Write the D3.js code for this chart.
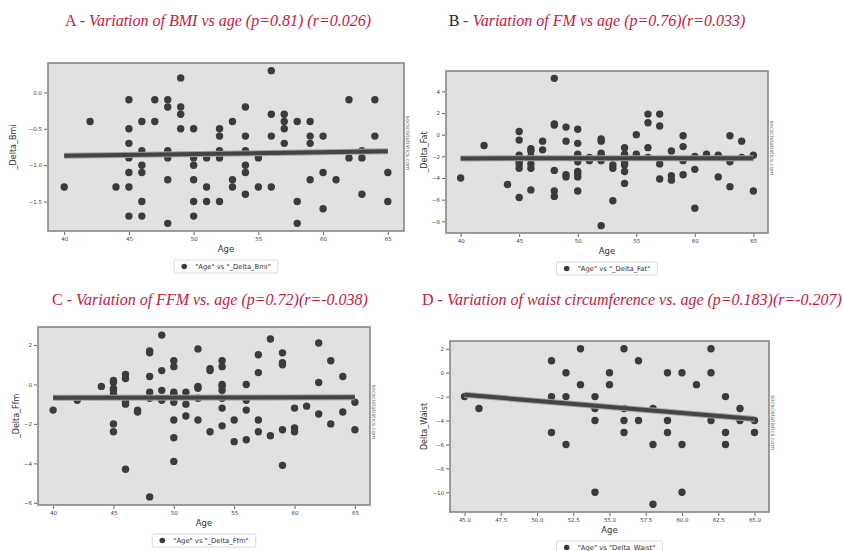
<!DOCTYPE html>
<html>
<head>
<meta charset="utf-8">
<script src="https://cdn.jsdelivr.net/npm/d3@7"></script>
<style>
  body { margin: 0; background: #fff; }
  svg { display: block; }
</style>
</head>
<body>
<div id="chart-area"></div>
<script>
// [age, delta]
var bmiPoints = [
    [40, -1.3], [42, -0.4], [44, -1.3],
    [45, -0.1], [45, -0.5], [45, -0.7], [45, -0.9], [45, -1.1], [45, -1.3], [45, -1.7],
    [46, -0.4], [46, -0.8], [46, -1.0], [46, -1.1], [46, -1.5], [46, -1.7],
    [47, -0.1], [47, -0.4],
    [48, -0.1], [48, -0.2], [48, -0.8], [48, -0.9], [48, -1.2], [48, -1.8],
    [49, 0.2], [49, -0.2], [49, -0.3], [49, -0.5],
    [50, -0.5], [50, -0.9], [50, -1.0], [50, -1.2], [50, -1.5], [50, -1.7],
    [51, -0.9], [51, -1.3], [51, -1.5],
    [52, -0.5], [52, -0.6], [52, -0.8], [52, -0.9], [52, -1.5],
    [53, -0.4], [53, -1.2], [53, -1.3],
    [54, -0.2], [54, -0.6], [54, -0.8], [54, -1.0], [54, -1.1], [54, -1.4],
    [55, -0.9], [55, -1.3],
    [56, 0.3], [56, -0.3], [56, -0.6], [56, -1.3],
    [57, -0.3], [57, -0.4], [57, -0.5], [57, -0.7],
    [58, -0.4], [58, -1.5], [58, -1.8],
    [59, -0.4], [59, -0.6], [59, -0.7], [59, -1.2],
    [60, -0.6], [60, -1.1], [60, -1.6],
    [61, -1.2], [62, -0.1], [62, -0.9],
    [63, -0.8], [63, -0.9], [63, -1.4],
    [64, -0.1], [64, -0.6], [65, -1.1], [65, -1.5]
];

var fatPoints = [
    [40, -4.0], [42, -1.0], [44, -4.6],
    [45, 0.3], [45, -0.5], [45, -1.9], [45, -2.1], [45, -2.5], [45, -2.7], [45, -3.1], [45, -5.8],
    [46, -1.3], [46, -1.5], [46, -2.0], [46, -2.7], [46, -3.1], [46, -5.1],
    [47, -0.6], [47, -1.4],
    [48, 5.2], [48, 1.0], [48, 0.9], [48, -3.3], [48, -5.2], [48, -5.7],
    [49, 0.7], [49, -0.6], [49, -3.7], [49, -3.9],
    [50, 0.5], [50, -0.8], [50, -1.8], [50, -2.5], [50, -3.4], [50, -3.6], [50, -3.9], [50, -5.2],
    [51, -2.1], [51, -2.4],
    [52, -0.4], [52, -0.6], [52, -1.7], [52, -1.9], [52, -2.4], [52, -8.4],
    [53, -2.8], [53, -3.1], [53, -6.1],
    [54, -1.2], [54, -1.8], [54, -2.0], [54, -2.3], [54, -2.6], [54, -2.8], [54, -3.4], [54, -4.5],
    [55, 0.0], [55, -1.8],
    [56, 1.9], [56, 1.1], [56, -1.2], [56, -2.1],
    [57, 1.9], [57, 0.8], [57, -2.7], [57, -4.1],
    [58, -1.5], [58, -3.8], [58, -4.2],
    [59, -0.1], [59, -1.1], [59, -2.4], [59, -3.7],
    [60, -2.0], [60, -3.2], [60, -6.8],
    [61, -1.8], [62, -1.9], [62, -2.0], [62, -3.9],
    [63, -0.1], [63, -2.5], [63, -4.8],
    [64, -0.6], [64, -2.1], [65, -1.9], [65, -5.2]
];

var ffmPoints = [
    [40, -1.3], [42, -0.8], [44, -0.1],
    [45, 0.2], [45, 0.1], [45, -0.2], [45, -0.3], [45, -0.5], [45, -2.0], [45, -2.4],
    [46, 0.5], [46, 0.3], [46, -0.9], [46, -1.0], [46, -4.3],
    [47, -1.3], [47, -1.4],
    [48, 1.7], [48, 1.6], [48, 0.4], [48, -0.4], [48, -0.7], [48, -5.7],
    [49, 2.5], [49, 0.7], [49, -0.3], [49, -0.8],
    [50, 1.2], [50, 0.9], [50, -0.4], [50, -0.5], [50, -0.6], [50, -0.9], [50, -1.8], [50, -2.7], [50, -3.9],
    [51, -0.4], [51, -1.0], [51, -1.6],
    [52, 1.8], [52, -0.1], [52, -0.2], [52, -0.7], [52, -1.8],
    [53, 0.8], [53, 0.7], [53, -2.4],
    [54, 1.2], [54, 0.9], [54, 0.0], [54, -0.1], [54, -0.3], [54, -0.7], [54, -1.2], [54, -2.1],
    [55, -1.8], [55, -2.9],
    [56, 0.0], [56, -0.8], [56, -1.3], [56, -2.8],
    [57, 1.5], [57, 0.6], [57, -1.8], [57, -2.4],
    [58, 2.3], [58, -2.6],
    [59, 1.6], [59, 1.1], [59, 1.0], [59, -2.3], [59, -4.1],
    [60, -1.2], [60, -2.2], [60, -2.4],
    [61, -1.1], [62, 2.1], [62, 0.1], [62, -1.5],
    [63, 1.2], [63, -2.0], [64, 0.4], [64, -1.4],
    [65, -0.9], [65, -2.3]
];

var waistPoints = [
    [45, -2], [46, -3],
    [51, 1], [51, -2], [51, -5],
    [52, 0], [52, -2], [52, -6],
    [53, 2], [53, -1],
    [54, -2], [54, -3], [54, -4], [54, -10],
    [55, 0], [55, -1],
    [56, 2], [56, -3], [56, -4], [56, -5],
    [57, 1], [57, -4],
    [58, -3], [58, -6], [58, -11],
    [59, 0], [59, -4], [59, -5],
    [60, 0], [60, -6], [60, -10],
    [61, -1],
    [62, 2], [62, 0], [62, -4],
    [63, -2], [63, -5], [63, -6],
    [64, -3], [64, -4],
    [65, -4], [65, -5]
];

// fitted line ends
var fitAges = [40, 65];
var bmiFit = [-0.87, -0.81];
var fatFit = [-2.19, -2.17];
var ffmFit = [-0.67, -0.65];
var waistFitAges = [45, 65];
var waistFit = [-1.85, -3.87];

var ageTicks = [40, 45, 50, 55, 60, 65];
var waistAgeTicks = [45, 47.5, 50, 52.5, 55, 57.5, 60, 62.5, 65];
var bmiTicks = [0, -0.5, -1, -1.5];
var fatTicks = [4, 2, 0, -2, -4, -6, -8];
var ffmTicks = [2, 0, -2, -4, -6];
var waistTicks = [2, 0, -2, -4, -6, -8, -10];

var crimson = "#c8173f";
var minus = s => s.replace("-", "\u2212");

var svg = d3.select("#chart-area").append("svg")
    .attr("width", 843)
    .attr("height", 551);

function pad(ext) {
    var m = (ext[1] - ext[0]) * 0.05;
    return [ext[0] - m, ext[1] + m];
}

function drawPanel(p) {
    var x = d3.scaleLinear().domain(pad(d3.extent(p.points, d => d[0]))).range([p.left, p.right]);
    var y = d3.scaleLinear().domain(pad(d3.extent(p.points, d => d[1]))).range([p.bottom, p.top]);
    var g = svg.append("g");

    // title
    var t = svg.append("text")
        .attr("x", p.titleX).attr("y", p.titleY)
        .attr("text-anchor", "middle")
        .style("font-family", "'Liberation Serif', 'Times New Roman', serif")
        .style("font-size", "16px");
    t.append("tspan").attr("fill", p.letterColor).text(p.letter);
    t.append("tspan").attr("fill", crimson).text(" - ");
    t.append("tspan").attr("fill", crimson).style("font-style", "italic").text(p.title);

    g.append("rect")
        .attr("x", p.left).attr("y", p.top)
        .attr("width", p.right - p.left).attr("height", p.bottom - p.top)
        .attr("fill", "#e1e1e1")
        .attr("stroke", "#858585")
        .attr("stroke-width", 1.6);

    var xAxis = g.append("g")
        .attr("transform", "translate(0," + (p.bottom + 1) + ")")
        .call(d3.axisBottom(x).tickValues(p.xTicks).tickSize(3).tickPadding(2)
            .tickFormat(p.xFormat));
    var yAxis = g.append("g")
        .attr("transform", "translate(" + (p.left - 1) + ",0)")
        .call(d3.axisLeft(y).tickValues(p.yTicks).tickSize(3).tickPadding(2)
            .tickFormat(d => minus(p.yFormat(d))));
    [xAxis, yAxis].forEach(a => {
        a.select(".domain").remove();
        a.selectAll("line").attr("stroke", "#666");
        a.selectAll("text").attr("fill", "#444")
            .style("font-family", "'DejaVu Sans', sans-serif").style("font-size", "5.5px");
    });

    g.append("text")
        .attr("x", (p.left + p.right) / 2).attr("y", p.bottom + 21)
        .attr("text-anchor", "middle").attr("fill", "#333")
        .style("font-family", "'DejaVu Sans', sans-serif").style("font-size", "8.5px")
        .text("Age");
    g.append("text")
        .attr("transform", "translate(" + p.yLabelX + "," + (p.top + p.bottom) / 2 + ") rotate(-90)")
        .attr("text-anchor", "middle").attr("fill", "#333")
        .style("font-family", "'DejaVu Sans', sans-serif").style("font-size", "8px")
        .text(p.yLabel);

    // watermark on the right edge
    g.append("text")
        .attr("transform", "translate(" + (p.right + 2) + "," + ((p.top + p.bottom) / 2 - 4) + ") rotate(90)")
        .attr("text-anchor", "middle").attr("fill", "#666")
        .style("font-family", "'DejaVu Sans', sans-serif").style("font-size", "5.5px")
        .text("socscistatistics.com");

    g.selectAll("circle.pt")
        .data(p.points)
        .enter().append("circle")
        .attr("class", "pt")
        .attr("cx", d => x(d[0]))
        .attr("cy", d => y(d[1]))
        .attr("r", 3.7)
        .attr("fill", "#3b3b3b");

    var fit = p.fitAges.map((a, i) => [a, p.fit[i]]);
    var line = d3.line().x(d => x(d[0])).y(d => y(d[1]));
    g.append("path").datum(fit).attr("d", line)
        .attr("stroke", "#a0a0a0").attr("stroke-width", 6).attr("fill", "none");
    g.append("path").datum(fit).attr("d", line)
        .attr("stroke", "#444").attr("stroke-width", 4).attr("fill", "none");

    // legend
    var lg = g.append("g");
    var lt = lg.append("text")
        .attr("fill", "#333")
        .style("font-family", "'DejaVu Sans', sans-serif").style("font-size", "6.8px")
        .text(p.legend);
    var tw = lt.node().getComputedTextLength();
    var w = tw + 28, cx = (p.left + p.right) / 2, top = p.bottom + 29;
    lg.insert("rect", "text")
        .attr("x", cx - w / 2).attr("y", top).attr("width", w).attr("height", 13)
        .attr("fill", "#fff").attr("stroke", "#d0d0d0").attr("stroke-width", 0.8).attr("rx", 1.5);
    lg.append("circle").attr("cx", cx - w / 2 + 10).attr("cy", top + 6.5).attr("r", 2.8).attr("fill", "#3b3b3b");
    lt.attr("x", cx - w / 2 + 21).attr("y", top + 9);
}

drawPanel({
    points: bmiPoints, fitAges: fitAges, fit: bmiFit,
    left: 48, right: 404, top: 63, bottom: 231,
    xTicks: ageTicks, xFormat: d3.format("d"), yTicks: bmiTicks, yFormat: d3.format(".1f"),
    yLabel: "_Delta_Bmi", yLabelX: 16, legend: "\"Age\" vs \"_Delta_Bmi\"",
    letter: "A", letterColor: crimson, title: "Variation of BMI vs age (p=0.81) (r=0.026)",
    titleX: 218, titleY: 26
});
drawPanel({
    points: fatPoints, fitAges: fitAges, fit: fatFit,
    left: 446, right: 768, top: 71, bottom: 233,
    xTicks: ageTicks, xFormat: d3.format("d"), yTicks: fatTicks, yFormat: d3.format("d"),
    yLabel: "_Delta_Fat", yLabelX: 427, legend: "\"Age\" vs \"_Delta_Fat\"",
    letter: "B", letterColor: "#222", title: "Variation of FM vs age (p=0.76)(r=0.033)",
    titleX: 597, titleY: 26
});
drawPanel({
    points: ffmPoints, fitAges: fitAges, fit: ffmFit,
    left: 38, right: 370, top: 327, bottom: 505,
    xTicks: ageTicks, xFormat: d3.format("d"), yTicks: ffmTicks, yFormat: d3.format("d"),
    yLabel: "_Delta_Ffm", yLabelX: 19, legend: "\"Age\" vs \"_Delta_Ffm\"",
    letter: "C", letterColor: crimson, title: "Variation of FFM vs. age (p=0.72)(r=-0.038)",
    titleX: 210, titleY: 305
});
drawPanel({
    points: waistPoints, fitAges: waistFitAges, fit: waistFit,
    left: 450, right: 769, top: 341, bottom: 512,
    xTicks: waistAgeTicks, xFormat: d3.format(".1f"), yTicks: waistTicks, yFormat: d3.format("d"),
    yLabel: "Delta_Waist", yLabelX: 427, legend: "\"Age\" vs \"Delta_Waist\"",
    letter: "D", letterColor: crimson, title: "Variation of waist circumference vs. age (p=0.183)(r=-0.207)",
    titleX: 632, titleY: 305
});
</script>
</body>
</html>
